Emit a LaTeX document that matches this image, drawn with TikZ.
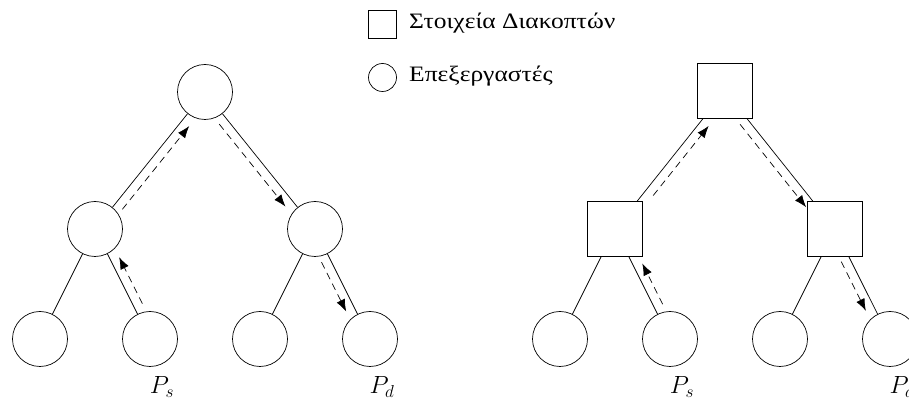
\documentclass[tikz,border=0pt]{standalone}
\usepackage{fontspec}
\newfontfamily\greekfont[FakeStretch=1.16]{Liberation Serif}
\usetikzlibrary{calc,arrows.meta}
\tikzset{
  proc/.style={circle,draw,line width=0.7pt,minimum size=55pt,inner sep=0pt},
  switchbox/.style={rectangle,draw,line width=0.7pt,minimum size=55pt,inner sep=0pt},
  legsq/.style={rectangle,draw,line width=0.7pt,minimum size=28pt,inner sep=0pt},
  legci/.style={circle,draw,line width=0.7pt,minimum size=28pt,inner sep=0pt},
  link/.style={line width=0.7pt},
  flowline/.style={line width=0.7pt,dash pattern=on 7pt off 5pt,-{Latex[length=12pt,width=9pt]}},
  lab/.style={inner sep=0pt,font=\fontsize{25}{30}\selectfont},
  legtext/.style={inner sep=0pt,anchor=west,font=\greekfont\fontsize{22}{26}\selectfont}
}
\newcommand{\flowarrow}[4]{%
  \draw[flowline] ($(#1)!#3pt!(#2)!9pt!-90:(#2)$) -- ($(#2)!#4pt!(#1)!9pt!90:(#1)$);}
\begin{document}
\begin{tikzpicture}[x=1pt,y=1pt]
\useasboundingbox (0,0) rectangle (909,403);
\clip (0,0) rectangle (909,403);
% legend
\node[legsq] (lsq) at (382.5,379) {};
\node[legtext] (lsqt) at (409,380) {Στοιχεία Διακοπτών};
\node[legci] (lci) at (382.5,325.5) {};
\node[legtext] (lcit) at (409,326.5) {Επεξεργαστές};
% left tree
\node[proc] (Lr) at (205,311) {};
\node[proc] (La) at (95,174) {};
\node[proc] (Lb) at (315,174) {};
\node[proc] (L1) at (40,64) {};
\node[proc] (L2) at (150,64) {};
\node[proc] (L3) at (260,64) {};
\node[proc] (L4) at (370,64) {};
\node[lab] (Lps) at (162,16) {$P_s$};
\node[lab] (Lpd) at (382,16) {$P_d$};
\draw[link] (Lr) -- (La);
\draw[link] (Lr) -- (Lb);
\draw[link] (La) -- (L1);
\draw[link] (La) -- (L2);
\draw[link] (Lb) -- (L3);
\draw[link] (Lb) -- (L4);
\flowarrow{L2}{La}{35}{36}
\flowarrow{La}{Lr}{32.5}{36.5}
\flowarrow{Lr}{Lb}{34}{36}
\flowarrow{Lb}{L4}{32.6}{35.3}
% right tree
\node[switchbox] (Rr) at (725,312) {};
\node[switchbox] (Ra) at (615,174) {};
\node[switchbox] (Rb) at (835,174) {};
\node[proc] (R1) at (560,64) {};
\node[proc] (R2) at (670,64) {};
\node[proc] (R3) at (780,64) {};
\node[proc] (R4) at (890,64) {};
\node[lab] (Rps) at (682,16) {$P_s$};
\node[lab] (Rpd) at (902,16) {$P_d$};
\draw[link] (Rr) -- (Ra);
\draw[link] (Rr) -- (Rb);
\draw[link] (Ra) -- (R1);
\draw[link] (Ra) -- (R2);
\draw[link] (Rb) -- (R3);
\draw[link] (Rb) -- (R4);
\flowarrow{R2}{Ra}{34.4}{43}
\flowarrow{Ra}{Rr}{50}{37.5}
\flowarrow{Rr}{Rb}{35.5}{35}
\flowarrow{Rb}{R4}{32}{36}
\end{tikzpicture}
\end{document}
